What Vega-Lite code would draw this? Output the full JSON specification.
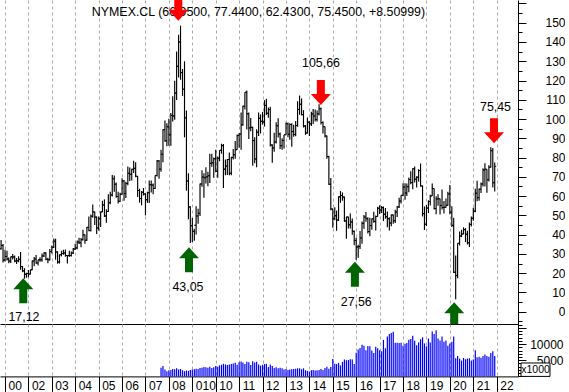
{
  "$schema": "https://vega.github.io/schema/vega-lite/v6.json",
  "padding": 0,
  "spacing": 0,
  "bounds": "flush",
  "config": {
    "view": {"stroke": null},
    "font": "Liberation Sans",
    "axis": {"domainColor": "#000", "tickColor": "#000", "labelColor": "#000", "labelFont": "Liberation Sans", "labelFontSize": 12, "domainWidth": 1, "tickWidth": 1}
  },
  "datasets": {
    "px": [
      {"d":"2000-11","o":32.7,"h":37.2,"l":32.2,"c":34.4},
      {"d":"2000-12","o":34.4,"h":35.1,"l":25.5,"c":26.8},
      {"d":"2001-01","o":26.8,"h":32.2,"l":26.0,"c":28.7},
      {"d":"2001-02","o":28.7,"h":31.6,"l":26.6,"c":27.4},
      {"d":"2001-03","o":27.4,"h":28.1,"l":25.2,"c":26.3},
      {"d":"2001-04","o":26.3,"h":28.7,"l":25.3,"c":28.5},
      {"d":"2001-05","o":28.5,"h":29.9,"l":27.1,"c":28.4},
      {"d":"2001-06","o":28.4,"h":29.1,"l":25.7,"c":26.3},
      {"d":"2001-07","o":26.3,"h":27.8,"l":24.8,"c":26.4},
      {"d":"2001-08","o":26.4,"h":28.8,"l":25.6,"c":27.2},
      {"d":"2001-09","o":27.2,"h":31.0,"l":21.8,"c":23.4},
      {"d":"2001-10","o":23.4,"h":23.7,"l":20.5,"c":21.2},
      {"d":"2001-11","o":21.2,"h":22.6,"l":17.12,"c":19.4},
      {"d":"2001-12","o":19.4,"h":20.2,"l":17.6,"c":19.8},
      {"d":"2002-01","o":19.8,"h":21.6,"l":17.9,"c":19.5},
      {"d":"2002-02","o":19.5,"h":21.8,"l":19.3,"c":21.7},
      {"d":"2002-03","o":21.7,"h":26.6,"l":21.5,"c":26.3},
      {"d":"2002-04","o":26.3,"h":28.4,"l":23.6,"c":27.3},
      {"d":"2002-05","o":27.3,"h":29.4,"l":24.9,"c":25.3},
      {"d":"2002-06","o":25.3,"h":27.0,"l":24.0,"c":26.9},
      {"d":"2002-07","o":26.9,"h":28.3,"l":25.9,"c":27.0},
      {"d":"2002-08","o":27.0,"h":30.2,"l":25.9,"c":28.9},
      {"d":"2002-09","o":28.9,"h":30.8,"l":28.4,"c":30.5},
      {"d":"2002-10","o":30.5,"h":30.9,"l":26.7,"c":27.2},
      {"d":"2002-11","o":27.2,"h":28.0,"l":25.2,"c":26.9},
      {"d":"2002-12","o":26.9,"h":32.6,"l":26.6,"c":31.2},
      {"d":"2003-01","o":31.2,"h":34.3,"l":30.2,"c":33.5},
      {"d":"2003-02","o":33.5,"h":38.0,"l":33.0,"c":36.6},
      {"d":"2003-03","o":36.6,"h":37.8,"l":26.9,"c":31.0},
      {"d":"2003-04","o":31.0,"h":31.3,"l":24.9,"c":25.8},
      {"d":"2003-05","o":25.8,"h":29.7,"l":25.0,"c":29.6},
      {"d":"2003-06","o":29.6,"h":31.6,"l":28.7,"c":30.2},
      {"d":"2003-07","o":30.2,"h":32.2,"l":29.6,"c":30.5},
      {"d":"2003-08","o":30.5,"h":32.3,"l":28.5,"c":29.2},
      {"d":"2003-09","o":29.2,"h":29.4,"l":25.0,"c":29.2},
      {"d":"2003-10","o":29.2,"h":31.6,"l":28.4,"c":29.1},
      {"d":"2003-11","o":29.1,"h":31.2,"l":28.6,"c":30.4},
      {"d":"2003-12","o":30.4,"h":33.1,"l":29.9,"c":32.5},
      {"d":"2004-01","o":32.5,"h":35.3,"l":32.0,"c":33.1},
      {"d":"2004-02","o":33.1,"h":37.0,"l":32.4,"c":36.2},
      {"d":"2004-03","o":36.2,"h":38.4,"l":35.1,"c":35.8},
      {"d":"2004-04","o":35.8,"h":38.2,"l":33.5,"c":37.4},
      {"d":"2004-05","o":37.4,"h":42.5,"l":37.0,"c":39.9},
      {"d":"2004-06","o":39.9,"h":40.0,"l":35.3,"c":37.1},
      {"d":"2004-07","o":37.1,"h":44.0,"l":36.8,"c":43.8},
      {"d":"2004-08","o":43.8,"h":49.4,"l":41.7,"c":42.1},
      {"d":"2004-09","o":42.1,"h":50.5,"l":41.6,"c":49.6},
      {"d":"2004-10","o":49.6,"h":55.7,"l":48.7,"c":51.8},
      {"d":"2004-11","o":51.8,"h":52.0,"l":45.0,"c":49.1},
      {"d":"2004-12","o":49.1,"h":49.4,"l":40.3,"c":43.5},
      {"d":"2005-01","o":43.5,"h":49.4,"l":42.1,"c":48.2},
      {"d":"2005-02","o":48.2,"h":52.0,"l":44.0,"c":51.8},
      {"d":"2005-03","o":51.8,"h":57.6,"l":51.7,"c":55.4},
      {"d":"2005-04","o":55.4,"h":58.3,"l":49.2,"c":49.7},
      {"d":"2005-05","o":49.7,"h":53.2,"l":46.2,"c":52.0},
      {"d":"2005-06","o":52.0,"h":60.9,"l":51.8,"c":56.5},
      {"d":"2005-07","o":56.5,"h":62.3,"l":55.8,"c":60.6},
      {"d":"2005-08","o":60.6,"h":70.9,"l":59.8,"c":69.0},
      {"d":"2005-09","o":69.0,"h":70.7,"l":62.3,"c":66.2},
      {"d":"2005-10","o":66.2,"h":67.0,"l":59.2,"c":59.8},
      {"d":"2005-11","o":59.8,"h":62.3,"l":56.2,"c":57.3},
      {"d":"2005-12","o":57.3,"h":61.8,"l":56.9,"c":61.0},
      {"d":"2006-01","o":61.0,"h":69.2,"l":60.8,"c":67.9},
      {"d":"2006-02","o":67.9,"h":68.4,"l":57.6,"c":61.4},
      {"d":"2006-03","o":61.4,"h":67.5,"l":59.0,"c":66.6},
      {"d":"2006-04","o":66.6,"h":75.4,"l":65.6,"c":71.9},
      {"d":"2006-05","o":71.9,"h":74.9,"l":67.9,"c":71.3},
      {"d":"2006-06","o":71.3,"h":74.2,"l":68.1,"c":73.9},
      {"d":"2006-07","o":73.9,"h":78.4,"l":72.0,"c":74.4},
      {"d":"2006-08","o":74.4,"h":77.6,"l":69.8,"c":70.3},
      {"d":"2006-09","o":70.3,"h":70.4,"l":59.5,"c":62.9},
      {"d":"2006-10","o":62.9,"h":63.8,"l":56.6,"c":58.7},
      {"d":"2006-11","o":58.7,"h":62.6,"l":55.2,"c":62.0},
      {"d":"2006-12","o":62.0,"h":64.2,"l":60.3,"c":61.1},
      {"d":"2007-01","o":61.1,"h":61.4,"l":50.0,"c":58.1},
      {"d":"2007-02","o":58.1,"h":62.3,"l":56.5,"c":61.8},
      {"d":"2007-03","o":61.8,"h":68.1,"l":56.4,"c":65.9},
      {"d":"2007-04","o":65.9,"h":68.1,"l":61.9,"c":65.7},
      {"d":"2007-05","o":65.7,"h":66.6,"l":61.0,"c":64.0},
      {"d":"2007-06","o":64.0,"h":70.7,"l":63.7,"c":70.7},
      {"d":"2007-07","o":70.7,"h":78.8,"l":70.2,"c":78.2},
      {"d":"2007-08","o":78.2,"h":78.8,"l":69.0,"c":74.0},
      {"d":"2007-09","o":74.0,"h":84.1,"l":72.6,"c":81.7},
      {"d":"2007-10","o":81.7,"h":94.7,"l":77.6,"c":94.5},
      {"d":"2007-11","o":94.5,"h":99.3,"l":88.2,"c":88.7},
      {"d":"2007-12","o":88.7,"h":97.8,"l":85.9,"c":96.0},
      {"d":"2008-01","o":96.0,"h":100.1,"l":86.1,"c":91.8},
      {"d":"2008-02","o":91.8,"h":103.1,"l":86.1,"c":101.8},
      {"d":"2008-03","o":101.8,"h":111.8,"l":98.7,"c":101.6},
      {"d":"2008-04","o":101.6,"h":119.9,"l":99.6,"c":113.5},
      {"d":"2008-05","o":113.5,"h":135.1,"l":109.9,"c":127.4},
      {"d":"2008-06","o":127.4,"h":143.7,"l":121.6,"c":140.0},
      {"d":"2008-07","o":140.0,"h":148.5,"l":120.4,"c":124.1},
      {"d":"2008-08","o":124.1,"h":126.0,"l":112.0,"c":115.5},
      {"d":"2008-09","o":115.5,"h":130.0,"l":90.5,"c":100.6},
      {"d":"2008-10","o":100.6,"h":104.4,"l":62.8,"c":67.8},
      {"d":"2008-11","o":67.8,"h":71.9,"l":48.0,"c":54.4},
      {"d":"2008-12","o":54.4,"h":54.7,"l":35.6,"c":44.6},
      {"d":"2009-01","o":44.6,"h":48.6,"l":36.2,"c":41.7},
      {"d":"2009-02","o":41.7,"h":43.0,"l":36.8,"c":44.8},
      {"d":"2009-03","o":44.8,"h":54.7,"l":40.0,"c":49.7},
      {"d":"2009-04","o":49.7,"h":53.4,"l":45.6,"c":51.1},
      {"d":"2009-05","o":51.1,"h":66.6,"l":49.7,"c":66.3},
      {"d":"2009-06","o":66.3,"h":73.4,"l":64.9,"c":69.9},
      {"d":"2009-07","o":69.9,"h":71.9,"l":59.1,"c":69.5},
      {"d":"2009-08","o":69.5,"h":75.0,"l":66.6,"c":70.0},
      {"d":"2009-09","o":70.0,"h":72.7,"l":65.1,"c":70.6},
      {"d":"2009-10","o":70.6,"h":82.0,"l":66.8,"c":77.0},
      {"d":"2009-11","o":77.0,"h":82.0,"l":75.2,"c":77.3},
      {"d":"2009-12","o":77.3,"h":80.0,"l":69.5,"c":79.4},
      {"d":"2010-01","o":79.4,"h":84.0,"l":72.4,"c":72.9},
      {"d":"2010-02","o":72.9,"h":80.5,"l":69.5,"c":79.7},
      {"d":"2010-03","o":79.7,"h":83.8,"l":78.1,"c":83.8},
      {"d":"2010-04","o":83.8,"h":87.2,"l":82.0,"c":86.2},
      {"d":"2010-05","o":86.2,"h":87.1,"l":64.2,"c":74.0},
      {"d":"2010-06","o":74.0,"h":79.0,"l":70.8,"c":75.6},
      {"d":"2010-07","o":75.6,"h":79.3,"l":71.0,"c":79.0},
      {"d":"2010-08","o":79.0,"h":82.6,"l":70.8,"c":71.9},
      {"d":"2010-09","o":71.9,"h":80.4,"l":70.8,"c":80.0},
      {"d":"2010-10","o":80.0,"h":84.4,"l":79.0,"c":81.4},
      {"d":"2010-11","o":81.4,"h":88.6,"l":79.4,"c":84.1},
      {"d":"2010-12","o":84.1,"h":92.0,"l":84.0,"c":91.4},
      {"d":"2011-01","o":91.4,"h":92.6,"l":85.1,"c":92.2},
      {"d":"2011-02","o":92.2,"h":103.4,"l":84.1,"c":97.0},
      {"d":"2011-03","o":97.0,"h":106.9,"l":96.5,"c":106.7},
      {"d":"2011-04","o":106.7,"h":113.9,"l":105.0,"c":113.9},
      {"d":"2011-05","o":113.9,"h":114.8,"l":94.6,"c":102.7},
      {"d":"2011-06","o":102.7,"h":103.4,"l":89.7,"c":95.4},
      {"d":"2011-07","o":95.4,"h":100.6,"l":93.7,"c":95.7},
      {"d":"2011-08","o":95.7,"h":96.0,"l":75.7,"c":88.8},
      {"d":"2011-09","o":88.8,"h":90.5,"l":77.1,"c":79.2},
      {"d":"2011-10","o":79.2,"h":94.7,"l":75.0,"c":93.2},
      {"d":"2011-11","o":93.2,"h":103.4,"l":91.2,"c":100.4},
      {"d":"2011-12","o":100.4,"h":102.4,"l":92.5,"c":98.8},
      {"d":"2012-01","o":98.8,"h":103.7,"l":97.1,"c":98.5},
      {"d":"2012-02","o":98.5,"h":109.8,"l":96.1,"c":107.1},
      {"d":"2012-03","o":107.1,"h":110.6,"l":102.1,"c":103.0},
      {"d":"2012-04","o":103.0,"h":106.0,"l":100.7,"c":104.9},
      {"d":"2012-05","o":104.9,"h":106.4,"l":85.8,"c":86.5},
      {"d":"2012-06","o":86.5,"h":86.9,"l":77.3,"c":85.0},
      {"d":"2012-07","o":85.0,"h":92.9,"l":83.0,"c":88.1},
      {"d":"2012-08","o":88.1,"h":98.3,"l":87.3,"c":96.5},
      {"d":"2012-09","o":96.5,"h":100.4,"l":90.4,"c":92.2},
      {"d":"2012-10","o":92.2,"h":93.0,"l":84.5,"c":86.2},
      {"d":"2012-11","o":86.2,"h":90.0,"l":84.1,"c":88.9},
      {"d":"2012-12","o":88.9,"h":91.7,"l":84.7,"c":91.8},
      {"d":"2013-01","o":91.8,"h":98.2,"l":91.8,"c":97.5},
      {"d":"2013-02","o":97.5,"h":98.2,"l":90.6,"c":92.1},
      {"d":"2013-03","o":92.1,"h":97.8,"l":89.3,"c":97.2},
      {"d":"2013-04","o":97.2,"h":97.8,"l":85.6,"c":93.5},
      {"d":"2013-05","o":93.5,"h":97.0,"l":90.8,"c":92.0},
      {"d":"2013-06","o":92.0,"h":99.0,"l":91.1,"c":96.6},
      {"d":"2013-07","o":96.6,"h":109.3,"l":96.0,"c":105.0},
      {"d":"2013-08","o":105.0,"h":112.2,"l":102.2,"c":107.7},
      {"d":"2013-09","o":107.7,"h":110.7,"l":101.9,"c":102.3},
      {"d":"2013-10","o":102.3,"h":104.6,"l":95.6,"c":96.4},
      {"d":"2013-11","o":96.4,"h":96.9,"l":91.8,"c":92.7},
      {"d":"2013-12","o":92.7,"h":100.8,"l":92.5,"c":98.4},
      {"d":"2014-01","o":98.4,"h":98.8,"l":91.2,"c":97.5},
      {"d":"2014-02","o":97.5,"h":103.8,"l":96.4,"c":102.6},
      {"d":"2014-03","o":102.6,"h":105.2,"l":97.4,"c":101.6},
      {"d":"2014-04","o":101.6,"h":105.0,"l":98.7,"c":99.7},
      {"d":"2014-05","o":99.7,"h":104.5,"l":98.7,"c":102.7},
      {"d":"2014-06","o":102.7,"h":107.7,"l":101.9,"c":105.4},
      {"d":"2014-07","o":105.4,"h":106.0,"l":97.2,"c":98.2},
      {"d":"2014-08","o":98.2,"h":98.8,"l":92.5,"c":96.0},
      {"d":"2014-09","o":96.0,"h":96.0,"l":90.4,"c":91.2},
      {"d":"2014-10","o":91.2,"h":91.5,"l":79.4,"c":80.5},
      {"d":"2014-11","o":80.5,"h":80.9,"l":65.7,"c":66.2},
      {"d":"2014-12","o":66.2,"h":69.4,"l":52.7,"c":53.3},
      {"d":"2015-01","o":53.3,"h":53.5,"l":43.6,"c":48.2},
      {"d":"2015-02","o":48.2,"h":54.2,"l":47.4,"c":49.8},
      {"d":"2015-03","o":49.8,"h":52.5,"l":42.0,"c":47.6},
      {"d":"2015-04","o":47.6,"h":59.9,"l":47.1,"c":59.6},
      {"d":"2015-05","o":59.6,"h":62.6,"l":56.5,"c":60.3},
      {"d":"2015-06","o":60.3,"h":61.9,"l":57.6,"c":59.5},
      {"d":"2015-07","o":59.5,"h":59.8,"l":46.7,"c":47.1},
      {"d":"2015-08","o":47.1,"h":49.3,"l":37.8,"c":49.2},
      {"d":"2015-09","o":49.2,"h":49.3,"l":43.2,"c":45.1},
      {"d":"2015-10","o":45.1,"h":50.9,"l":43.2,"c":46.6},
      {"d":"2015-11","o":46.6,"h":48.4,"l":39.9,"c":41.7},
      {"d":"2015-12","o":41.7,"h":42.1,"l":34.5,"c":37.0},
      {"d":"2016-01","o":37.0,"h":38.4,"l":26.9,"c":33.6},
      {"d":"2016-02","o":33.6,"h":34.7,"l":28.0,"c":33.8},
      {"d":"2016-03","o":33.8,"h":41.9,"l":32.5,"c":38.3},
      {"d":"2016-04","o":38.3,"h":46.8,"l":35.2,"c":45.9},
      {"d":"2016-05","o":45.9,"h":50.2,"l":43.0,"c":49.1},
      {"d":"2016-06","o":49.1,"h":51.7,"l":46.7,"c":48.3},
      {"d":"2016-07","o":48.3,"h":49.0,"l":40.6,"c":41.6},
      {"d":"2016-08","o":41.6,"h":48.8,"l":39.2,"c":44.7},
      {"d":"2016-09","o":44.7,"h":48.4,"l":42.5,"c":48.2},
      {"d":"2016-10","o":48.2,"h":51.9,"l":46.2,"c":46.9},
      {"d":"2016-11","o":46.9,"h":49.9,"l":42.2,"c":49.4},
      {"d":"2016-12","o":49.4,"h":54.5,"l":49.4,"c":53.7},
      {"d":"2017-01","o":53.7,"h":55.2,"l":50.7,"c":52.8},
      {"d":"2017-02","o":52.8,"h":54.9,"l":51.2,"c":54.0},
      {"d":"2017-03","o":54.0,"h":54.6,"l":47.1,"c":50.6},
      {"d":"2017-04","o":50.6,"h":53.8,"l":48.2,"c":49.3},
      {"d":"2017-05","o":49.3,"h":52.0,"l":43.8,"c":48.3},
      {"d":"2017-06","o":48.3,"h":49.0,"l":42.1,"c":46.0},
      {"d":"2017-07","o":46.0,"h":50.4,"l":44.4,"c":50.2},
      {"d":"2017-08","o":50.2,"h":50.4,"l":45.6,"c":47.2},
      {"d":"2017-09","o":47.2,"h":52.9,"l":46.0,"c":51.7},
      {"d":"2017-10","o":51.7,"h":54.9,"l":49.1,"c":54.4},
      {"d":"2017-11","o":54.4,"h":59.1,"l":53.8,"c":57.4},
      {"d":"2017-12","o":57.4,"h":60.5,"l":56.1,"c":60.4},
      {"d":"2018-01","o":60.4,"h":66.7,"l":59.9,"c":64.7},
      {"d":"2018-02","o":64.7,"h":66.7,"l":58.1,"c":61.6},
      {"d":"2018-03","o":61.6,"h":66.6,"l":60.0,"c":64.9},
      {"d":"2018-04","o":64.9,"h":69.6,"l":62.0,"c":68.6},
      {"d":"2018-05","o":68.6,"h":72.9,"l":66.1,"c":67.0},
      {"d":"2018-06","o":67.0,"h":74.5,"l":63.6,"c":74.2},
      {"d":"2018-07","o":74.2,"h":75.3,"l":67.0,"c":68.8},
      {"d":"2018-08","o":68.8,"h":70.3,"l":64.4,"c":69.8},
      {"d":"2018-09","o":69.8,"h":73.9,"l":67.6,"c":73.3},
      {"d":"2018-10","o":73.3,"h":76.9,"l":64.9,"c":65.3},
      {"d":"2018-11","o":65.3,"h":65.5,"l":49.4,"c":50.9},
      {"d":"2018-12","o":50.9,"h":54.6,"l":42.4,"c":45.4},
      {"d":"2019-01","o":45.4,"h":55.4,"l":44.4,"c":53.8},
      {"d":"2019-02","o":53.8,"h":57.8,"l":51.2,"c":57.2},
      {"d":"2019-03","o":57.2,"h":60.7,"l":55.1,"c":60.1},
      {"d":"2019-04","o":60.1,"h":66.6,"l":60.0,"c":63.9},
      {"d":"2019-05","o":63.9,"h":63.9,"l":53.0,"c":53.5},
      {"d":"2019-06","o":53.5,"h":59.9,"l":50.6,"c":58.5},
      {"d":"2019-07","o":58.5,"h":60.9,"l":55.0,"c":58.6},
      {"d":"2019-08","o":58.6,"h":58.8,"l":50.5,"c":55.1},
      {"d":"2019-09","o":55.1,"h":63.4,"l":53.1,"c":54.1},
      {"d":"2019-10","o":54.1,"h":57.5,"l":51.0,"c":54.2},
      {"d":"2019-11","o":54.2,"h":58.7,"l":54.0,"c":55.2},
      {"d":"2019-12","o":55.2,"h":62.3,"l":55.0,"c":61.1},
      {"d":"2020-01","o":61.1,"h":65.7,"l":50.6,"c":51.6},
      {"d":"2020-02","o":51.6,"h":54.7,"l":44.0,"c":44.8},
      {"d":"2020-03","o":44.8,"h":48.7,"l":20.1,"c":20.5},
      {"d":"2020-04","o":20.5,"h":29.1,"l":6.5,"c":18.8},
      {"d":"2020-05","o":18.8,"h":35.5,"l":17.3,"c":35.5},
      {"d":"2020-06","o":35.5,"h":41.6,"l":34.4,"c":39.3},
      {"d":"2020-07","o":39.3,"h":42.5,"l":38.7,"c":40.3},
      {"d":"2020-08","o":40.3,"h":43.8,"l":40.2,"c":42.6},
      {"d":"2020-09","o":42.6,"h":43.4,"l":36.1,"c":40.2},
      {"d":"2020-10","o":40.2,"h":42.0,"l":34.9,"c":35.8},
      {"d":"2020-11","o":35.8,"h":46.3,"l":33.6,"c":45.3},
      {"d":"2020-12","o":45.3,"h":49.4,"l":44.2,"c":48.5},
      {"d":"2021-01","o":48.5,"h":53.9,"l":47.2,"c":52.2},
      {"d":"2021-02","o":52.2,"h":63.8,"l":51.6,"c":61.5},
      {"d":"2021-03","o":61.5,"h":68.0,"l":57.3,"c":59.2},
      {"d":"2021-04","o":59.2,"h":64.0,"l":57.6,"c":63.6},
      {"d":"2021-05","o":63.6,"h":67.0,"l":61.6,"c":66.3},
      {"d":"2021-06","o":66.3,"h":74.5,"l":65.0,"c":73.5},
      {"d":"2021-07","o":73.5,"h":77.0,"l":65.0,"c":74.0},
      {"d":"2021-08","o":74.0,"h":74.0,"l":61.7,"c":68.5},
      {"d":"2021-09","o":68.5,"h":76.0,"l":67.6,"c":75.0},
      {"d":"2021-10","o":75.0,"h":85.4,"l":74.9,"c":83.6},
      {"d":"2021-11","o":83.6,"h":85.0,"l":64.4,"c":66.94},
      {"d":"2021-12","o":66.95,"h":77.44,"l":62.43,"c":75.45}
    ],
    "vol": [
      {"d":"2007-09","v":2700},{"d":"2007-10","v":3200},{"d":"2007-11","v":2100},{"d":"2007-12","v":1600},
      {"d":"2008-01","v":1900},{"d":"2008-02","v":2000},{"d":"2008-03","v":2300},{"d":"2008-04","v":2200},{"d":"2008-05","v":2500},{"d":"2008-06","v":2100},{"d":"2008-07","v":2300},{"d":"2008-08","v":1900},{"d":"2008-09","v":1600},{"d":"2008-10","v":1800},{"d":"2008-11","v":1700},{"d":"2008-12","v":2000},
      {"d":"2009-01","v":2100},{"d":"2009-02","v":2200},{"d":"2009-03","v":2400},{"d":"2009-04","v":2300},{"d":"2009-05","v":2600},{"d":"2009-06","v":2700},{"d":"2009-07","v":2900},{"d":"2009-08","v":2800},{"d":"2009-09","v":2700},{"d":"2009-10","v":3000},{"d":"2009-11","v":2600},{"d":"2009-12","v":2800},
      {"d":"2010-01","v":3200},{"d":"2010-02","v":3000},{"d":"2010-03","v":3400},{"d":"2010-04","v":3600},{"d":"2010-05","v":3900},{"d":"2010-06","v":3700},{"d":"2010-07","v":3500},{"d":"2010-08","v":3700},{"d":"2010-09","v":3800},{"d":"2010-10","v":4000},{"d":"2010-11","v":4200},{"d":"2010-12","v":3600},
      {"d":"2011-01","v":4400},{"d":"2011-02","v":4600},{"d":"2011-03","v":4300},{"d":"2011-04","v":3800},{"d":"2011-05","v":4500},{"d":"2011-06","v":4400},{"d":"2011-07","v":3500},{"d":"2011-08","v":4700},{"d":"2011-09","v":4300},{"d":"2011-10","v":4500},{"d":"2011-11","v":3700},{"d":"2011-12","v":3300},
      {"d":"2012-01","v":3600},{"d":"2012-02","v":3800},{"d":"2012-03","v":3900},{"d":"2012-04","v":2900},{"d":"2012-05","v":3700},{"d":"2012-06","v":3200},{"d":"2012-07","v":2600},{"d":"2012-08","v":2800},{"d":"2012-09","v":2500},{"d":"2012-10","v":2700},{"d":"2012-11","v":2500},{"d":"2012-12","v":2100},
      {"d":"2013-01","v":2300},{"d":"2013-02","v":2000},{"d":"2013-03","v":2100},{"d":"2013-04","v":2200},{"d":"2013-05","v":2300},{"d":"2013-06","v":2400},{"d":"2013-07","v":2500},{"d":"2013-08","v":2500},{"d":"2013-09","v":2200},{"d":"2013-10","v":2500},{"d":"2013-11","v":1900},{"d":"2013-12","v":1700},
      {"d":"2014-01","v":1500},{"d":"2014-02","v":1900},{"d":"2014-03","v":2000},{"d":"2014-04","v":1800},{"d":"2014-05","v":1900},{"d":"2014-06","v":2000},{"d":"2014-07","v":2300},{"d":"2014-08","v":2000},{"d":"2014-09","v":2600},{"d":"2014-10","v":3000},{"d":"2014-11","v":2400},{"d":"2014-12","v":2900},
      {"d":"2015-01","v":5400},{"d":"2015-02","v":3900},{"d":"2015-03","v":3800},{"d":"2015-04","v":4200},{"d":"2015-05","v":3400},{"d":"2015-06","v":4500},{"d":"2015-07","v":5200},{"d":"2015-08","v":5000},{"d":"2015-09","v":5100},{"d":"2015-10","v":5300},{"d":"2015-11","v":5200},{"d":"2015-12","v":3800},
      {"d":"2016-01","v":7300},{"d":"2016-02","v":8300},{"d":"2016-03","v":8800},{"d":"2016-04","v":9800},{"d":"2016-05","v":9500},{"d":"2016-06","v":8100},{"d":"2016-07","v":9400},{"d":"2016-08","v":9300},{"d":"2016-09","v":8000},{"d":"2016-10","v":7200},{"d":"2016-11","v":9200},{"d":"2016-12","v":8700},
      {"d":"2017-01","v":8100},{"d":"2017-02","v":7800},{"d":"2017-03","v":11300},{"d":"2017-04","v":8700},{"d":"2017-05","v":12300},{"d":"2017-06","v":13100},{"d":"2017-07","v":13400},{"d":"2017-08","v":13800},{"d":"2017-09","v":10400},{"d":"2017-10","v":10400},{"d":"2017-11","v":10300},{"d":"2017-12","v":10400},
      {"d":"2018-01","v":9500},{"d":"2018-02","v":10100},{"d":"2018-03","v":10300},{"d":"2018-04","v":11300},{"d":"2018-05","v":11600},{"d":"2018-06","v":12600},{"d":"2018-07","v":11000},{"d":"2018-08","v":9600},{"d":"2018-09","v":10500},{"d":"2018-10","v":11500},{"d":"2018-11","v":12100},{"d":"2018-12","v":10200},
      {"d":"2019-01","v":9300},{"d":"2019-02","v":11700},{"d":"2019-03","v":10500},{"d":"2019-04","v":13900},{"d":"2019-05","v":13100},{"d":"2019-06","v":14300},{"d":"2019-07","v":11700},{"d":"2019-08","v":11100},{"d":"2019-09","v":12300},{"d":"2019-10","v":10700},{"d":"2019-11","v":11100},{"d":"2019-12","v":9500},
      {"d":"2020-01","v":10200},{"d":"2020-02","v":10700},{"d":"2020-03","v":12300},{"d":"2020-04","v":5600},{"d":"2020-05","v":6300},{"d":"2020-06","v":5500},{"d":"2020-07","v":4900},{"d":"2020-08","v":5700},{"d":"2020-09","v":5300},{"d":"2020-10","v":5500},{"d":"2020-11","v":5600},{"d":"2020-12","v":4900},
      {"d":"2021-01","v":5200},{"d":"2021-02","v":8100},{"d":"2021-03","v":5900},{"d":"2021-04","v":6100},{"d":"2021-05","v":5800},{"d":"2021-06","v":6300},{"d":"2021-07","v":6800},{"d":"2021-08","v":6300},{"d":"2021-09","v":6100},{"d":"2021-10","v":7200},{"d":"2021-11","v":7800},{"d":"2021-12","v":6300}
    ],
    "notes": [
      {"d":"2011-10-30","p":155.5,"t":"NYMEX.CL (66.9500, 77.4400, 62.4300, 75.4500, +8.50999)"},
      {"d":"2001-10-24","p":-3.0,"t":"17,12"},
      {"d":"2008-10-25","p":13.0,"t":"43,05"},
      {"d":"2016-01-02","p":5.2,"t":"27,56"},
      {"d":"2014-07-01","p":128.9,"t":"105,66"},
      {"d":"2021-12-13","p":106.4,"t":"75,45"}
    ],
    "arrows": [
      {"d":"2001-10-13","p":17.3,"dir":"up"},
      {"d":"2008-05-27","p":151,"dir":"down"},
      {"d":"2008-11-10","p":33.4,"dir":"up"},
      {"d":"2014-06-29","p":107.3,"dir":"down"},
      {"d":"2015-12-12","p":25.9,"dir":"up"},
      {"d":"2020-03-09","p":4.9,"dir":"up"},
      {"d":"2021-11-20","p":87.4,"dir":"down"}
    ],
    "box": [
      {"d":"2023-01-15","d2":"2024-04-11","v":4143,"v2":0}
    ],
    "boxlabel": [
      {"d":"2023-08-29","v":2133,"t":"x1000"}
    ]
  },
  "vconcat": [
    {
      "width": 518,
      "height": 324,
      "encoding": {
        "x": {
          "field": "d", "type": "temporal",
          "scale": {"domain": [{"year":2000,"month":10,"date":15,"utc":true},{"year":2022,"month":11,"date":29,"utc":true}]},
          "axis": {
            "title": null, "labels": false, "ticks": false, "domain": true,
            "grid": true, "gridDash": [3,3], "gridColor": "#aaaaaa", "gridWidth": 1,
            "values": [
              {"year":2001,"month":1,"date":1,"utc":true},{"year":2002,"month":1,"date":1,"utc":true},{"year":2003,"month":1,"date":1,"utc":true},{"year":2004,"month":1,"date":1,"utc":true},{"year":2005,"month":1,"date":1,"utc":true},{"year":2006,"month":1,"date":1,"utc":true},{"year":2007,"month":1,"date":1,"utc":true},{"year":2008,"month":1,"date":1,"utc":true},{"year":2009,"month":1,"date":1,"utc":true},{"year":2010,"month":1,"date":1,"utc":true},{"year":2011,"month":1,"date":1,"utc":true},{"year":2012,"month":1,"date":1,"utc":true},{"year":2013,"month":1,"date":1,"utc":true},{"year":2014,"month":1,"date":1,"utc":true},{"year":2015,"month":1,"date":1,"utc":true},{"year":2016,"month":1,"date":1,"utc":true},{"year":2017,"month":1,"date":1,"utc":true},{"year":2018,"month":1,"date":1,"utc":true},{"year":2019,"month":1,"date":1,"utc":true},{"year":2020,"month":1,"date":1,"utc":true},{"year":2021,"month":1,"date":1,"utc":true},{"year":2022,"month":1,"date":1,"utc":true}
            ]
          }
        },
        "y": {"field": "p", "type": "quantitative", "scale": {"domain": [-6.4, 161.8], "nice": false, "zero": false},
          "axis": {"orient": "right", "title": null, "grid": false,
            "values": [-5,0,5,10,15,20,25,30,35,40,45,50,55,60,65,70,75,80,85,90,95,100,105,110,115,120,125,130,135,140,145,150,155,160],
            "tickSize": {"condition": {"test": "datum.value % 10 === 0", "value": 8}, "value": 4},
            "labelFontSize": {"condition": {"test": "datum.value % 10 !== 0 || datum.value < 0 || datum.value > 150", "value": 0}, "value": 12},
            "labelExpr": "(datum.value % 10 === 0 && datum.value >= 0 && datum.value <= 150) ? datum.label : ''",
            "labelAlign": "right", "labelBaseline": "middle", "labelPadding": 39, "labelBound": false, "labelOverlap": false, "labelFlush": false}}
      },
      "layer": [
        {
          "data": {"name": "px"},
          "transform": [{"fold": ["l"], "as": ["k", "p"]}],
          "mark": {"type": "rule", "color": "#000", "strokeWidth": 1.15, "clip": true},
          "encoding": {"y2": {"field": "h"}}
        },
        {
          "data": {"name": "px"},
          "transform": [{"fold": ["o"], "as": ["k", "p"]}],
          "mark": {"type": "tick", "orient": "horizontal", "size": 1.5, "thickness": 1, "xOffset": -0.75, "color": "#000", "opacity": 1, "clip": true}
        },
        {
          "data": {"name": "px"},
          "transform": [{"fold": ["c"], "as": ["k", "p"]}],
          "mark": {"type": "tick", "orient": "horizontal", "size": 1.5, "thickness": 1, "xOffset": 0.75, "color": "#000", "opacity": 1, "clip": true}
        },
        {
          "data": {"name": "notes"},
          "mark": {"type": "text", "font": "Liberation Sans", "fontSize": 12.4, "color": "#000", "align": "center", "baseline": "middle"},
          "encoding": {"text": {"field": "t"}}
        },
        {
          "data": {"name": "arrows"},
          "mark": {"type": "point", "filled": true, "size": 4, "opacity": 1, "strokeWidth": 0, "clip": true},
          "encoding": {
            "shape": {"field": "dir", "type": "nominal", "legend": null,
              "scale": {"domain": ["up", "down"], "range": ["M0,0 L10,11 L4,11 L4,25 L-4,25 L-4,11 L-10,11 Z", "M0,0 L10,-11 L4,-11 L4,-25 L-4,-25 L-4,-11 L-10,-11 Z"]}},
            "color": {"field": "dir", "type": "nominal", "legend": null,
              "scale": {"domain": ["up", "down"], "range": ["#006400", "#ff0000"]}}
          }
        }
      ]
    },
    {
      "width": 518,
      "height": 52.4,
      "encoding": {
        "x": {
          "field": "d", "type": "temporal",
          "scale": {"domain": [{"year":2000,"month":10,"date":15,"utc":true},{"year":2022,"month":11,"date":29,"utc":true}]},
          "axis": {
            "title": null, "grid": true, "gridDash": [3,3], "gridColor": "#aaaaaa", "gridWidth": 1,
            "ticks": true, "tickSize": 15, "domain": true,
            "labelAlign": "left", "labelBaseline": "middle", "labelPadding": -6, "labelOffset": 3,
            "labelOverlap": false, "labelFlush": false, "labelBound": false, "labelFontSize": 12,
            "labelExpr": "utcyear(datum.value) === 2001 ? '00' : (utcyear(datum.value) === 2009 ? '010' : substring(toString(utcyear(datum.value)), 2))",
            "values": [
              {"year":2001,"month":1,"date":1,"utc":true},{"year":2002,"month":1,"date":1,"utc":true},{"year":2003,"month":1,"date":1,"utc":true},{"year":2004,"month":1,"date":1,"utc":true},{"year":2005,"month":1,"date":1,"utc":true},{"year":2006,"month":1,"date":1,"utc":true},{"year":2007,"month":1,"date":1,"utc":true},{"year":2008,"month":1,"date":1,"utc":true},{"year":2009,"month":1,"date":1,"utc":true},{"year":2010,"month":1,"date":1,"utc":true},{"year":2011,"month":1,"date":1,"utc":true},{"year":2012,"month":1,"date":1,"utc":true},{"year":2013,"month":1,"date":1,"utc":true},{"year":2014,"month":1,"date":1,"utc":true},{"year":2015,"month":1,"date":1,"utc":true},{"year":2016,"month":1,"date":1,"utc":true},{"year":2017,"month":1,"date":1,"utc":true},{"year":2018,"month":1,"date":1,"utc":true},{"year":2019,"month":1,"date":1,"utc":true},{"year":2020,"month":1,"date":1,"utc":true},{"year":2021,"month":1,"date":1,"utc":true},{"year":2022,"month":1,"date":1,"utc":true}
            ]
          }
        },
        "y": {"field": "v", "type": "quantitative", "scale": {"domain": [0, 16200], "nice": false, "zero": true},
          "axis": {"orient": "right", "title": null, "grid": false,
            "values": [0,1000,2000,3000,4000,5000,6000,7000,8000,9000,10000,11000,12000,13000,14000,15000,16000],
            "tickSize": {"condition": {"test": "datum.value % 5000 === 0", "value": 8}, "value": 4},
            "labelFontSize": {"condition": {"test": "datum.value !== 5000 && datum.value !== 10000", "value": 0}, "value": 12},
            "labelExpr": "(datum.value === 5000 || datum.value === 10000) ? format(datum.value, 'd') : ''",
            "labelAlign": "right", "labelBaseline": "middle", "labelPadding": 37, "labelBound": false, "labelOverlap": false, "labelFlush": false}}
      },
      "layer": [
        {
          "data": {"name": "vol"},
          "mark": {"type": "rule", "color": "#0000ff", "strokeWidth": 1.2},
          "encoding": {"y2": {"datum": 0}}
        },
        {
          "data": {"name": "box"},
          "mark": {"type": "rect", "fill": "#ffffff", "stroke": "#000000", "strokeWidth": 1},
          "encoding": {"x2": {"field": "d2"}, "y2": {"field": "v2"}}
        },
        {
          "data": {"name": "boxlabel"},
          "mark": {"type": "text", "font": "Liberation Sans", "fontSize": 10.5, "color": "#000", "align": "center", "baseline": "middle"},
          "encoding": {"text": {"field": "t"}}
        }
      ]
    }
  ]
}
